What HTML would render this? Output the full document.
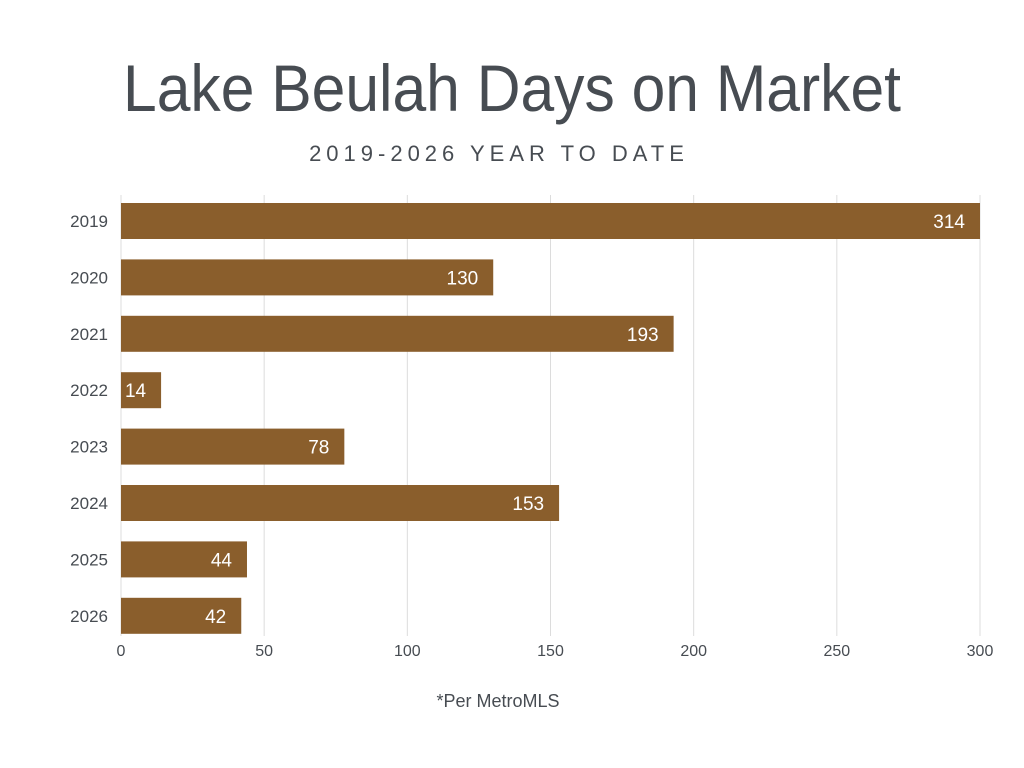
<!DOCTYPE html>
<html><head><meta charset="utf-8"><style>
html,body{margin:0;padding:0;background:#fff;width:1024px;height:768px;overflow:hidden;font-family:"Liberation Sans",sans-serif;}
</style></head><body>
<svg width="1024" height="768" xmlns="http://www.w3.org/2000/svg">
<text x="512" y="111" text-anchor="middle" font-family="Liberation Sans, sans-serif" font-size="66" fill="#474c52" textLength="778" lengthAdjust="spacingAndGlyphs">Lake Beulah Days on Market</text>
<text x="499" y="161" text-anchor="middle" font-size="22" fill="#474c52" letter-spacing="5">2019-2026 YEAR TO DATE</text>
<g id="grid"></g>
<g id="bars"></g>
<g id="ticks"></g>
<text x="498" y="707" text-anchor="middle" font-size="18" fill="#474c52">*Per MetroMLS</text>
</svg>
<script>
const categories=["2019","2020","2021","2022","2023","2024","2025","2026"];
const values=[314,130,193,14,78,153,44,42];
const ticks=[0,50,100,150,200,250,300];
const NS="http://www.w3.org/2000/svg";
const x0=121,x1=980,xmax=300;
function xs(v){return x0+Math.min(v,xmax)/xmax*(x1-x0);}
const top0=203,pitch=56.4,bh=36;
function ys(i){return top0+i*pitch;}
function mk(t,a,p){const e=document.createElementNS(NS,t);for(const k in a)e.setAttribute(k,a[k]);p.appendChild(e);return e;}
const grid=document.getElementById('grid'),bars=document.getElementById('bars'),tk=document.getElementById('ticks');
ticks.forEach(t=>{
 const l=mk('line',{x1:xs(t),x2:xs(t),y1:195,y2:636,stroke:'#dcdcdc','stroke-width':1},grid);
 
 
 const tx=mk('text',{x:xs(t),y:656,'text-anchor':'middle','font-size':16,fill:'#474c52'},tk);
 tx.textContent=t;
 
 
});
categories.forEach((c,i)=>{
 const y=ys(i);
 const r=mk('rect',{x:x0,y:y,width:xs(values[i])-x0,height:bh,fill:'#8a5e2c'},bars);
 
 
 const lab=mk('text',{x:108,y:y+bh/2+6,'text-anchor':'end','font-size':17,fill:'#474c52'},bars);
 lab.textContent=c;
 
 
 const v=mk('text',{x:xs(values[i])-15,y:y+bh/2+7,'text-anchor':'end','font-size':19,fill:'#fff'},bars);
 v.textContent=values[i];
 
 
});
</script>
</body></html>
